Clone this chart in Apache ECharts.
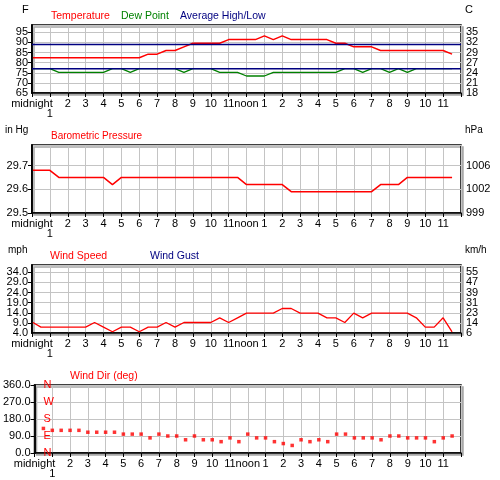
<!DOCTYPE html>
<html><head><meta charset="utf-8">
<script src="https://cdn.jsdelivr.net/npm/echarts@6/dist/echarts.min.js"></script>
<style>html,body{margin:0;padding:0;background:#fff}#c{width:500px;height:480px}</style>
</head><body><div id="c"></div>
<script>
// observation times (hours after midnight)
const hours = [0.05, 0.5, 1, 1.5, 2, 2.5, 3, 3.5, 4, 4.5, 5, 5.5, 6, 6.5, 7, 7.5, 8, 8.5, 9, 9.5, 10, 10.5, 11, 11.5,
  12, 12.5, 13, 13.5, 14, 14.5, 15, 15.5, 16, 16.5, 17, 17.5, 18, 18.5, 19, 19.5, 20, 20.5, 21, 21.5, 22, 22.5, 23, 23.5];
const temperatureF = [82.4, 82.4, 82.4, 82.4, 82.4, 82.4, 82.4, 82.4, 82.4, 82.4, 82.4, 82.4, 82.4, 84.2, 84.2, 86, 86, 87.8, 89.6, 89.6, 89.6, 89.6, 91.4, 91.4,
  91.4, 91.4, 93.2, 91.4, 93.2, 91.4, 91.4, 91.4, 91.4, 91.4, 89.6, 89.6, 87.8, 87.8, 87.8, 86, 86, 86, 86, 86, 86, 86, 86, 84.2];
const dewPointF = [77, 77, 77, 75.2, 75.2, 75.2, 75.2, 75.2, 75.2, 77, 77, 75.2, 77, 77, 77, 77, 77, 75.2, 77, 77, 77, 75.2, 75.2, 75.2,
  73.4, 73.4, 73.4, 75.2, 75.2, 75.2, 75.2, 75.2, 75.2, 75.2, 75.2, 77, 77, 75.2, 77, 77, 75.2, 77, 75.2, 77, 77, 77, 77, 77];
const avgHighF = 89;
const avgLowF = 77;
const pressureInHg = [29.68, 29.68, 29.68, 29.65, 29.65, 29.65, 29.65, 29.65, 29.65, 29.62, 29.65, 29.65, 29.65, 29.65, 29.65, 29.65, 29.65, 29.65, 29.65, 29.65, 29.65, 29.65, 29.65, 29.65,
  29.62, 29.62, 29.62, 29.62, 29.62, 29.59, 29.59, 29.59, 29.59, 29.59, 29.59, 29.59, 29.59, 29.59, 29.59, 29.62, 29.62, 29.62, 29.65, 29.65, 29.65, 29.65, 29.65, 29.65];
const windSpeedMph = [9.2, 6.9, 6.9, 6.9, 6.9, 6.9, 6.9, 9.2, 6.9, 4.6, 6.9, 6.9, 4.6, 6.9, 6.9, 9.2, 6.9, 9.2, 9.2, 9.2, 9.2, 11.5, 9.2, 11.5,
  13.8, 13.8, 13.8, 13.8, 16.1, 16.1, 13.8, 13.8, 13.8, 11.5, 11.5, 9.2, 13.8, 11.5, 13.8, 13.8, 13.8, 13.8, 13.8, 11.5, 6.9, 6.9, 11.5, 4.6];
const windGustMph = [];
const windDirDeg = [null, 130, 120, 120, 120, 120, 110, 110, 110, 110, 100, 100, 100, 80, 100, 90, 90, 70, 90, 70, 70, 60, 80, 60,
  100, 80, 80, 60, 50, 40, 70, 60, 70, 60, 100, 100, 80, 80, 80, 70, 90, 90, 80, 80, 80, 60, 80, 90];
const hourLabels = ['midnight', '', '2', '3', '4', '5', '6', '7', '8', '9', '10', '11', 'noon',
  '1', '2', '3', '4', '5', '6', '7', '8', '9', '10', '11', ''];
const lowerHourLabels = {1: '1'};
const compassLabels = {0: 'N', 90: 'E', 180: 'S', 270: 'W', 360: 'N'};

const FONT = '"Liberation Sans", Arial, sans-serif';
const chart = echarts.init(document.getElementById('c'), null, {renderer: 'canvas'});
const tops = [25, 145, 265, 385];
const grids = tops.map(t => ({
  left: 32, right: 39, top: t, height: 68, show: true, backgroundColor: '#fff',
  borderColor: '#000', borderWidth: 1.5,
  shadowColor: '#a8a8a8', shadowOffsetX: 2, shadowOffsetY: 2, shadowBlur: 0
}));
const xAxes = [];
tops.forEach((t, i) => {
  xAxes.push({
    type: 'value', gridIndex: i, min: 0, max: 24, interval: 1,
    axisLine: {show: true, lineStyle: {color: '#000', width: 1.5}},
    axisTick: {show: true, length: 4, lineStyle: {color: '#000'}},
    splitLine: {show: true, lineStyle: {color: '#c4c4c4', width: 1}},
    axisLabel: {margin: 5, fontSize: 11, color: '#000', fontFamily: FONT,
      showMinLabel: true, showMaxLabel: true, hideOverlap: false,
      formatter: v => hourLabels[Math.round(v)] || ''}
  });
});
tops.forEach((t, i) => {
  xAxes.push({
    type: 'value', gridIndex: i, position: 'bottom', min: 0, max: 24, interval: 1,
    axisLine: {show: false}, axisTick: {show: false}, splitLine: {show: false},
    axisLabel: {margin: 15, fontSize: 11, color: '#000', fontFamily: FONT,
      showMinLabel: true, showMaxLabel: true, hideOverlap: false,
      formatter: v => lowerHourLabels[Math.round(v)] || ''}
  });
});
function leftAxis(gi, min, max, interval, dec, showMin, showMax) {
  return {type: 'value', gridIndex: gi, position: 'left', min, max, interval,
    axisLine: {show: true, lineStyle: {color: '#000', width: 1.5}},
    axisTick: {show: true, length: 3, lineStyle: {color: '#000'}},
    splitLine: {show: true, lineStyle: {color: '#c4c4c4', width: 1}},
    axisLabel: {margin: 4, fontSize: 11, color: '#000', fontFamily: FONT, showMinLabel: showMin, showMaxLabel: showMax,
      hideOverlap: false, formatter: v => v.toFixed(dec)}};
}
function rightAxis(gi, min, max, interval, fmt, showMin, showMax) {
  return {type: 'value', gridIndex: gi, position: 'right', min, max, interval,
    axisLine: {show: true, lineStyle: {color: '#000', width: 1.5}},
    axisTick: {show: true, inside: true, length: 4, lineStyle: {color: '#000'}},
    splitLine: {show: false},
    axisLabel: {show: !!fmt, margin: 5, fontSize: 11, color: '#000', fontFamily: FONT, showMinLabel: showMin, showMaxLabel: showMax,
      hideOverlap: false, formatter: fmt || (v => '')}};
}
// axis that only prints the label at its minimum (bottom) tick
function minLabelAxis(gi, position, min, max, interval, fmt) {
  return {type: 'value', gridIndex: gi, position, min, max, interval,
    axisLine: {show: false}, axisTick: {show: false}, splitLine: {show: false},
    axisLabel: {margin: position === 'left' ? 4 : 5, fontSize: 11, color: '#000', fontFamily: FONT,
      showMinLabel: true, showMaxLabel: false, hideOverlap: false,
      formatter: v => Math.abs(v - min) < 1e-9 ? fmt(v) : ''}};
}
const toC = v => String(Math.round((v - 32) * 5 / 9));
const toHpa = v => String(Math.round(v * 33.8639));
const toKmh = v => String(Math.round(v * 1.609344));
const yAxes = [
  leftAxis(0, 65, 98.6, 5, 0, false, false),
  rightAxis(0, 65, 98.6, 5, toC, false, false),
  leftAxis(1, 29.5, 29.787, 0.1, 1, true, false),
  rightAxis(1, 29.5, 29.787, 0.1, toHpa, true, false),
  leftAxis(2, 4, 37.6, 5, 1, false, false),
  rightAxis(2, 4, 37.6, 5, toKmh, false, false),
  leftAxis(3, 0, 360, 90, 1, true, true),
  rightAxis(3, 0, 360, 90, null, true, true),
  {type: 'value', gridIndex: 3, position: 'left', min: 0, max: 360, interval: 90,
    axisLine: {show: false}, axisTick: {show: false}, splitLine: {show: false},
    axisLabel: {inside: true, margin: 9, fontSize: 11, color: '#ff0000', fontFamily: FONT,
      showMinLabel: true, showMaxLabel: true, hideOverlap: false,
      formatter: v => compassLabels[Math.round(v)] || ''}},
  minLabelAxis(0, 'left', 65, 98.6, 5, v => v.toFixed(0)),
  minLabelAxis(0, 'right', 65, 98.6, 5, toC),
  minLabelAxis(2, 'left', 4, 37.6, 5, v => v.toFixed(1)),
  minLabelAxis(2, 'right', 4, 37.6, 5, toKmh)
];
const pts = arr => hours.map((h, i) => [h, arr[i]]);
const lineS = (name, xi, yi, data, color, w) => ({name, type: 'line', xAxisIndex: xi, yAxisIndex: yi, data,
  showSymbol: false, symbol: 'none', lineStyle: {color, width: w}, itemStyle: {color}, connectNulls: false, animation: false});
const series = [
  lineS('Temperature', 0, 0, pts(temperatureF), '#ff0000', 1.5),
  lineS('Dew Point', 0, 0, pts(dewPointF), '#008000', 1.3),
  lineS('Average High', 0, 0, [[0, avgHighF], [24, avgHighF]], '#000080', 1.5),
  lineS('Average Low', 0, 0, [[0, avgLowF], [24, avgLowF]], '#000080', 1.5),
  lineS('Barometric Pressure', 1, 2, pts(pressureInHg), '#ff0000', 1.5),
  lineS('Wind Speed', 2, 4, pts(windSpeedMph), '#ff0000', 1.3),
  lineS('Wind Gust', 2, 4, windGustMph, '#000080', 1.3),
  {name: 'Wind Dir', type: 'scatter', xAxisIndex: 3, yAxisIndex: 6, data: pts(windDirDeg).filter(p => p[1] !== null),
    symbol: 'rect', symbolSize: 3.5, itemStyle: {color: '#ff0000'}, animation: false}
];
const txt = (text, x, y, color, size) => ({type: 'text', x, y, silent: true,
  style: {text, fill: color, font: size + 'px ' + FONT, verticalAlign: 'middle'}});
const graphic = [
  txt('F', 22, 10, '#000', 11),
  txt('C', 465, 10, '#000', 11),
  txt('Temperature', 51, 16, '#ff0000', 10.5),
  txt('Dew Point', 121, 16, '#008000', 10.5),
  txt('Average High/Low', 180, 16, '#000080', 10.5),
  txt('in Hg', 5, 130, '#000', 10),
  txt('hPa', 465, 130, '#000', 10),
  txt('Barometric Pressure', 51, 136, '#ff0000', 10),
  txt('mph', 8, 250, '#000', 10),
  txt('km/h', 465, 250, '#000', 10),
  txt('Wind Speed', 50, 256, '#ff0000', 10.5),
  txt('Wind Gust', 150, 256, '#000080', 10.5),
  txt('Wind Dir (deg)', 70, 376, '#ff0000', 10.5)
];
chart.setOption({animation: false, backgroundColor: '#fff', grid: grids, xAxis: xAxes, yAxis: yAxes, series, graphic});
</script></body></html>
